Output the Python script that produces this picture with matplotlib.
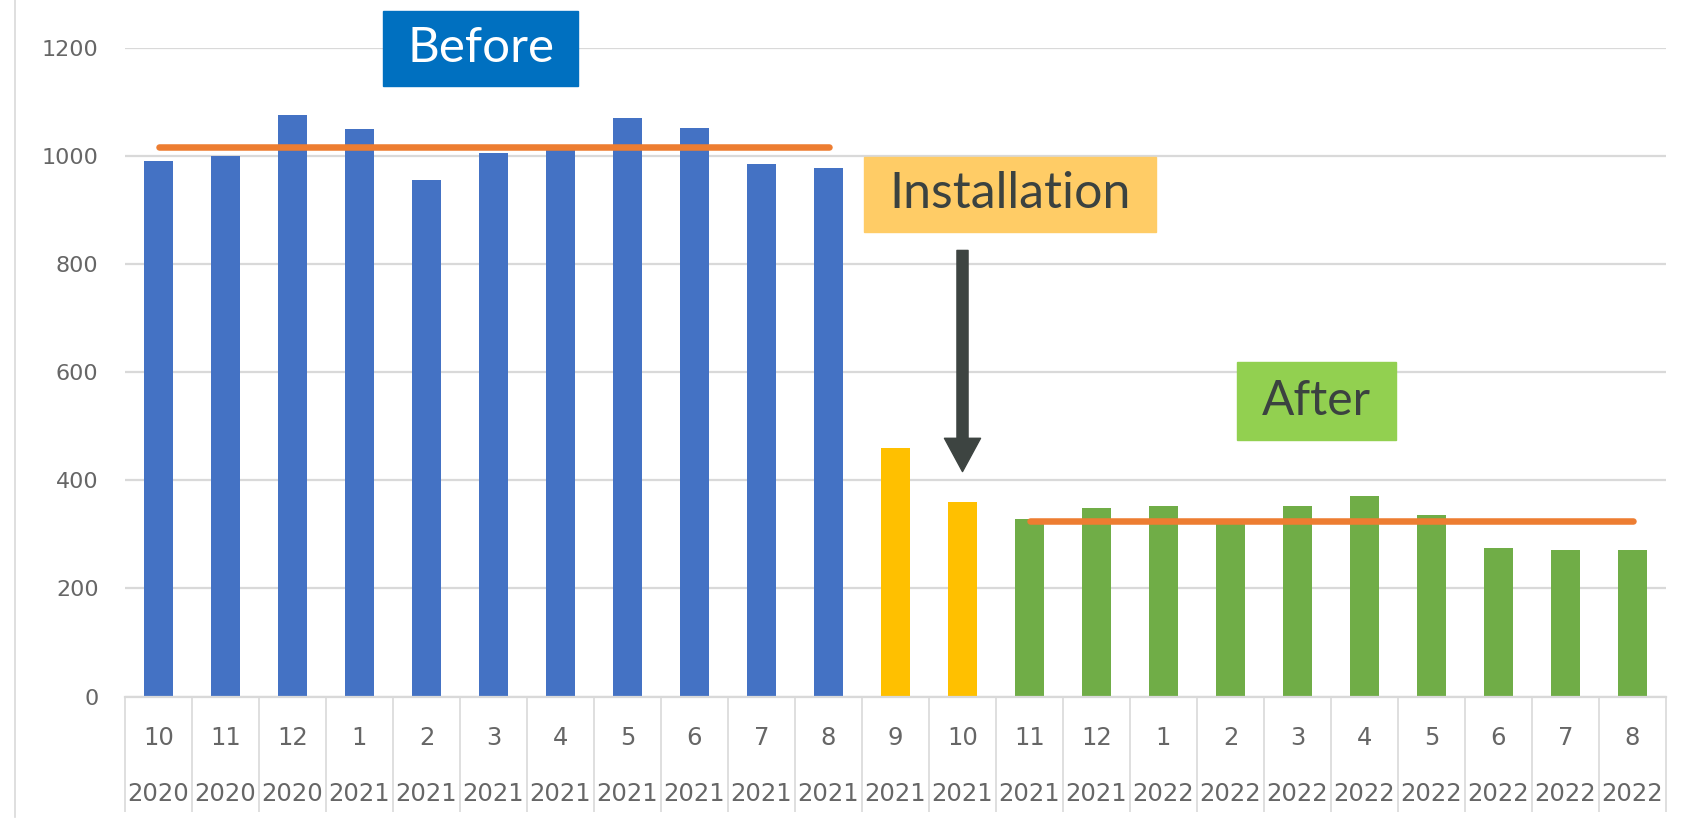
import numpy as np
import matplotlib.pyplot as plt
from matplotlib.patches import Rectangle
from matplotlib.lines import Line2D

# month / year two-level category axis
months = ['10', '11', '12', '1', '2', '3', '4', '5', '6', '7', '8',
          '9', '10',
          '11', '12', '1', '2', '3', '4', '5', '6', '7', '8']
years = ['2020'] * 3 + ['2021'] * 12 + ['2022'] * 8

before_vals = [990, 1000, 1075, 1050, 955, 1005, 1015, 1070, 1052, 985, 978]
install_vals = [460, 360]
after_vals = [329, 348, 353, 322, 353, 370, 336, 274, 271, 271]

before_avg = 1016
after_avg = 324

yticks = [0, 200, 400, 600, 800, 1000, 1200]

BLUE = '#4472C4'
YELLOW = '#FFC000'
GREEN = '#70AD47'
ORANGE = '#ED7D31'
GRID = '#D9D9D9'
LABEL = '#666666'
DARK = '#3B4240'

W, H = 1693, 825
fig = plt.figure(figsize=(W / 100, H / 100), dpi=100)
ax = fig.add_axes([125 / W, 1 - 696.6 / H, 1541 / W, 649 / H])

x = np.arange(len(months))
n1, n2 = len(before_vals), len(install_vals)
xb = x[:n1]
xi = x[n1:n1 + n2]
xa = x[n1 + n2:]

bw = 0.42
ax.bar(xb, before_vals, width=bw, color=BLUE, zorder=2)
ax.bar(xi, install_vals, width=bw, color=YELLOW, zorder=2)
ax.bar(xa, after_vals, width=bw, color=GREEN, zorder=2)

# average lines
ax.plot(xb, [before_avg] * len(xb), color=ORANGE, lw=4.7,
        solid_capstyle='round', zorder=3)
ax.plot(xa, [after_avg] * len(xa), color=ORANGE, lw=4.7,
        solid_capstyle='round', zorder=3)

ax.set_xlim(-0.5, len(months) - 0.5)
ax.set_ylim(0, 1200)
ax.set_yticks(yticks)
ax.yaxis.grid(True, color=GRID, lw=1.6)
ax.set_axisbelow(True)
ax.tick_params(axis='y', length=0, pad=19, labelsize=16, labelcolor=LABEL)

for s in ['top', 'right', 'left']:
    ax.spines[s].set_visible(False)
ax.spines['bottom'].set_color(GRID)
ax.spines['bottom'].set_linewidth(1.6)

# category separators
ax.set_xticks(x)
ax.set_xticklabels([])
ax.tick_params(axis='x', which='major', length=0)
ax.set_xticks(np.arange(-0.5, len(months)), minor=True)
ax.tick_params(axis='x', which='minor', length=83, width=1.2, color=GRID,
               direction='out')

tr = ax.get_xaxis_transform()
for i, (m, yr) in enumerate(zip(months, years)):
    ax.text(i, -0.064, m, transform=tr, ha='center', va='center',
            fontsize=17.5, color=LABEL)
    ax.text(i, -0.150, yr, transform=tr, ha='center', va='center',
            fontsize=17.5, color=LABEL)

# installation arrow
ax.annotate('', xy=(xi[1], 416), xytext=(xi[1], 825),
            arrowprops=dict(arrowstyle='simple,head_length=24,head_width=26,tail_width=8',
                            mutation_scale=1, color='#3D4441',
                            shrinkA=0, shrinkB=0))

# label boxes (figure pixel coordinates)
def label_box(x0, y0, x1, y1, text, fc, tc, size):
    fig.add_artist(Rectangle((x0 / W, 1 - y1 / H), (x1 - x0) / W, (y1 - y0) / H,
                             transform=fig.transFigure, color=fc, zorder=5))
    fig.text((x0 + x1) / 2 / W, 1 - (y0 + y1) / 2 / H, text, ha='center',
             va='center', fontsize=size, color=tc, family='Lato', zorder=6)

label_box(383, 11, 578, 86, 'Before', '#0070C0', 'white', 35.5)
label_box(864, 157, 1156, 232, 'Installation', '#FFCC66', DARK, 36)
label_box(1237, 362, 1396, 440, 'After', '#92D050', DARK, 34.5)

# outer chart border on the left
fig.add_artist(Line2D([15 / W, 15 / W], [0.01, 1.0], color=GRID, lw=1.2))

fig.savefig('out.png', dpi=100)
